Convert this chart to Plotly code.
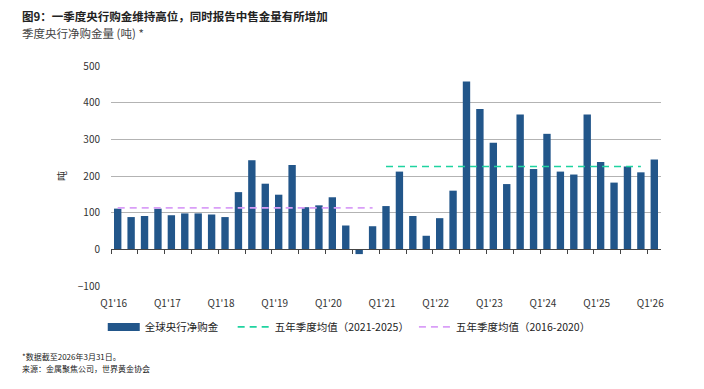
import plotly.graph_objects as go

quarters = [
    "Q1'16", "Q2'16", "Q3'16", "Q4'16",
    "Q1'17", "Q2'17", "Q3'17", "Q4'17",
    "Q1'18", "Q2'18", "Q3'18", "Q4'18",
    "Q1'19", "Q2'19", "Q3'19", "Q4'19",
    "Q1'20", "Q2'20", "Q3'20", "Q4'20",
    "Q1'21", "Q2'21", "Q3'21", "Q4'21",
    "Q1'22", "Q2'22", "Q3'22", "Q4'22",
    "Q1'23", "Q2'23", "Q3'23", "Q4'23",
    "Q1'24", "Q2'24", "Q3'24", "Q4'24",
    "Q1'25", "Q2'25", "Q3'25", "Q4'25",
    "Q1'26",
]
net_purchases = [
    111, 88, 91, 111,
    93, 98, 98, 95,
    88, 156, 243, 179,
    149, 230, 115, 120,
    142, 65, -13, 63,
    118, 212, 91, 37,
    85, 160, 458, 383,
    291, 178, 368, 219,
    315, 212, 204, 368,
    238, 182, 226, 210,
    245,
]
tick_labels = ["Q1'16", "Q1'17", "Q1'18", "Q1'19", "Q1'20", "Q1'21",
               "Q1'22", "Q1'23", "Q1'24", "Q1'25", "Q1'26"]
avg_2016_2020 = 113
avg_2021_2025 = 226
y_ticks = [-100, 0, 100, 200, 300, 400, 500]

span_old = quarters[0:20]
span_new = quarters[20:40]

FONT = "Noto Sans CJK SC, Noto Sans, sans-serif"
BAR = "#22568a"
GREEN = "#1fd3a0"
PURPLE = "#d99ef7"
NB = "\u00a0"

fig = go.Figure()
fig.add_trace(go.Bar(
    x=quarters, y=net_purchases, name="全球央行净购金",
    marker=dict(color=BAR, line=dict(width=0)), showlegend=False,
))
# legend entry for bars drawn as a wide swatch
fig.add_trace(go.Scatter(
    x=[None], y=[None], mode="lines", name="全球央行净购金" + NB * 4,
    line=dict(color=BAR, width=8), showlegend=True,
))
fig.add_trace(go.Scatter(
    x=span_new, y=[avg_2021_2025] * len(span_new), mode="lines",
    name="五年季度均值（2021-2025）",
    line=dict(color=GREEN, width=1.6, dash="7px,5px"),
))
fig.add_trace(go.Scatter(
    x=span_old, y=[avg_2016_2020] * len(span_old), mode="lines",
    name="五年季度均值（2016-2020）",
    line=dict(color=PURPLE, width=1.6, dash="7px,5px"),
))
# invisible helper trace for the zero-line tick axis
fig.add_trace(go.Scatter(
    x=quarters, y=[0] * len(quarters), xaxis="x2", mode="lines",
    line=dict(width=0), showlegend=False, hoverinfo="skip", opacity=0,
))

# page body adds an 8px offset, so the figure is 8px smaller and margins shifted
fig.update_layout(
    width=696, height=381,
    margin=dict(l=103, r=43, t=58, b=103, autoexpand=False),
    paper_bgcolor="white", plot_bgcolor="white",
    font=dict(family=FONT, size=10, color="#333333"),
    bargap=0.45,
    showlegend=True,
    legend=dict(
        orientation="h", x=-0.015, xanchor="left", y=-0.186, yanchor="middle",
        font=dict(size=10.5, color="#222222"), itemwidth=32,
        tracegroupgap=0,
    ),
    xaxis=dict(
        type="category", categoryorder="array", categoryarray=quarters,
        range=[-0.5, 40.5], tickmode="array", tickvals=tick_labels,
        ticktext=tick_labels, showgrid=False, showline=False, ticks="",
        tickfont=dict(size=10, color="#333333"), tickangle=0, automargin=False,
        ticklabelstandoff=10, ticklabelshift=-4,
    ),
    xaxis2=dict(
        type="category", categoryorder="array", categoryarray=quarters,
        range=[-0.5, 40.5], overlaying="x", anchor="free", position=1 / 6,
        showgrid=False, showline=True, linecolor="#444444", linewidth=1,
        ticks="outside", ticklen=4, tickcolor="#444444", tickwidth=1,
        tickson="boundaries", showticklabels=False, matches="x", automargin=False,
    ),
    yaxis=dict(
        range=[-100, 500], tickvals=y_ticks, showgrid=True,
        gridcolor="#b3b3b3", gridwidth=1.3, zeroline=False,
        showline=False, ticks="", ticklabelstandoff=10, automargin=False,
        tickfont=dict(size=10, color="#333333"),
        title=dict(text="吨", standoff=9, font=dict(size=10, color="#333333")),
    ),
)

fig.add_annotation(
    text="<b>图9：一季度央行购金维持高位，同时报告中售金量有所增加</b>",
    xref="paper", yref="paper", x=-0.165, y=1.226, xanchor="left",
    yanchor="middle", showarrow=False,
    font=dict(size=11.5, color="#222222"),
)
fig.add_annotation(
    text="季度央行净购金量 (吨) *",
    xref="paper", yref="paper", x=-0.165, y=1.148, xanchor="left",
    yanchor="middle", showarrow=False,
    font=dict(size=11.5, color="#444444"),
)
fig.add_annotation(
    text="*数据截至2026年3月31日。",
    xref="paper", yref="paper", x=-0.165, y=-0.32, xanchor="left",
    yanchor="middle", showarrow=False,
    font=dict(size=8, color="#222222"),
)
fig.add_annotation(
    text="来源：金属聚焦公司，世界黄金协会",
    xref="paper", yref="paper", x=-0.165, y=-0.375, xanchor="left",
    yanchor="middle", showarrow=False,
    font=dict(size=8, color="#222222"),
)

fig.write_html("out.html")
